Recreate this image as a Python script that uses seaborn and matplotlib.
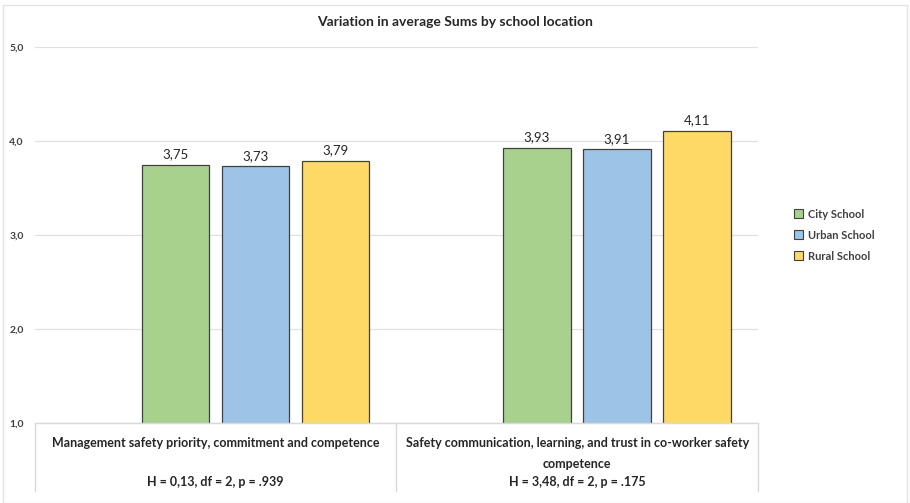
import matplotlib
matplotlib.use("Agg")
import matplotlib.pyplot as plt
import seaborn as sns
import pandas as pd
from matplotlib.patches import Patch, Rectangle
from matplotlib.lines import Line2D

categories = ["Management safety priority, commitment and competence",
              "Safety communication, learning, and trust in co-worker safety\ncompetence"]
stats = ["H = 0,13, df = 2, p = .939", "H = 3,48, df = 2, p = .175"]
schools = ["City School", "Urban School", "Rural School"]
city = [3.75, 3.93]
urban = [3.73, 3.91]
rural = [3.79, 4.11]
yticks = [1.0, 2.0, 3.0, 4.0, 5.0]
colors = ["#A9D18E", "#9DC3E6", "#FFD966"]

rows = []
for i, c in enumerate(["c0", "c1"]):
    for s, vals in zip(schools, [city, urban, rural]):
        rows.append({"cat": c, "school": s, "value": vals[i]})
df = pd.DataFrame(rows)

sns.set_theme(style="white")
plt.rcParams["font.family"] = ["Lato", "DejaVu Sans"]

fig = plt.figure(figsize=(9.10, 5.03), dpi=100)
ax = fig.add_axes([35/910, 1-423/503, (758-35)/910, (423-47)/503])

sns.barplot(data=df, x="cat", y="value", hue="school", hue_order=schools,
            palette=colors, saturation=1, width=0.665, gap=0.16, edgecolor="#404040",
            linewidth=0.9, ax=ax, legend=False, zorder=3)

ax.set_ylim(1, 5)
ax.set_xlim(-0.61, 1.39)
ax.set_yticks(yticks)
ax.set_yticklabels([f"{v:.1f}".replace(".", ",") for v in yticks],
                   fontsize=7.5, fontweight="bold", color="#404040")
ax.tick_params(axis="y", length=0, pad=8)
ax.set_xticks([])
ax.set_xlabel("")
ax.set_ylabel("")
ax.grid(axis="y", color="#E0E0E0", linewidth=0.9, zorder=0)
for sp in ax.spines.values():
    sp.set_visible(False)

for cont in ax.containers:
    labels = [f"{b.get_height():.2f}".replace(".", ",") for b in cont]
    ax.bar_label(cont, labels=labels, padding=3, fontsize=9.5, color="#262626")

# table lines under the axis
lc = "#D9D9D9"
ax.add_line(Line2D([0, 1], [0, 0], transform=ax.transAxes, color=lc, lw=1, clip_on=False, zorder=4))
for xa in [0, 0.5, 1]:
    ax.add_line(Line2D([xa, xa], [0, -0.181], transform=ax.transAxes, color=lc, lw=1, clip_on=False))

for xa, cat in zip([0.25, 0.75], categories):
    ax.text(xa, -0.037, cat, transform=ax.transAxes, ha="center", va="top",
            fontsize=9, fontweight="bold", color="#262626", linespacing=1.95)
for xa, s in zip([0.25, 0.75], stats):
    ax.text(xa, -0.157, s, transform=ax.transAxes, ha="center", va="center",
            fontsize=9, fontweight="bold", color="#262626")

fig.text(0.5, 1-22/503, "Variation in average Sums by school location", ha="center",
         va="center", fontsize=10, fontweight="bold", color="#262626")

handles = [Patch(facecolor=c, edgecolor="#404040", linewidth=0.8) for c in colors]
fig.legend(handles, schools, loc="center left", bbox_to_anchor=(0.862, 1-235/503),
           frameon=False, handlelength=0.8, handleheight=0.8,
           handletextpad=0.4, labelspacing=0.9, prop={"weight": "bold", "size": 8})
leg = fig.legends[0]
for t in leg.get_texts():
    t.set_color("#404040")

fig.patches.append(Rectangle((3/910, 0.0), 904/910, 1-5/503, transform=fig.transFigure,
                             fill=False, edgecolor="#E3E3E3", lw=1))

fig.savefig("out.png", dpi=100)
